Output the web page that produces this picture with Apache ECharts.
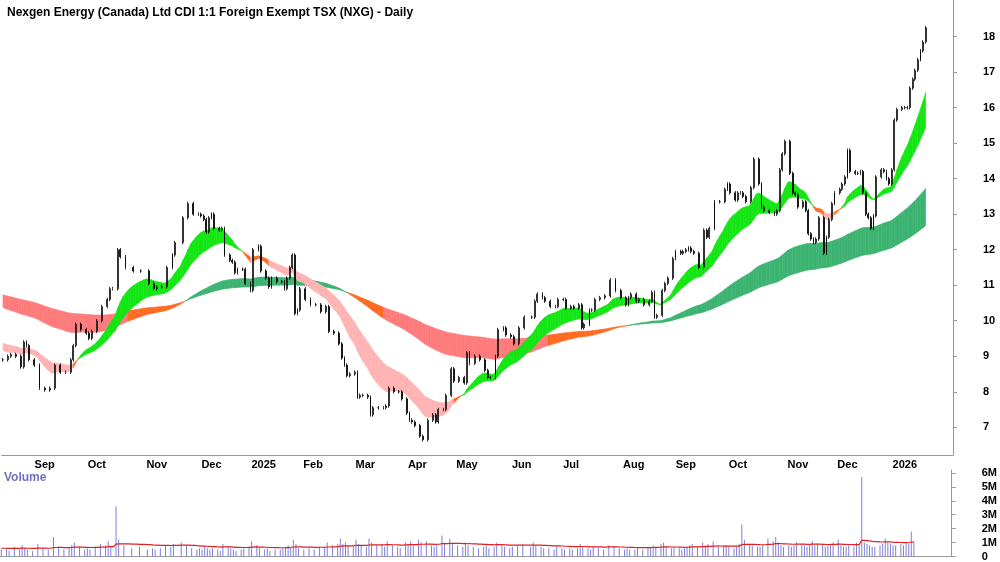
<!DOCTYPE html>
<html lang="en">
<head>
<meta charset="UTF-8">
<title>NXG Daily</title>
<script src="https://cdn.jsdelivr.net/npm/echarts@6/dist/echarts.min.js"></script>
<style>
  body { margin: 0; background: #ffffff; }
</style>
</head>
<body>
<div id="chart" style="width:1000px;height:562px;"></div>
<script>
// trading-day index and closing price
const days = [0,2,3,5,7,8,9,10,12,14,16,18,20,22,24,26,27,28,30,32,33,34,36,38,40,41,42,44,45,47,50,53,56,58,59,61,63,65,66,69,71,73,75,76,77,78,79,80,81,83,84,85,87,88,89,90,92,93,95,96,98,99,101,102,103,105,107,108,109,110,111,112,113,114,116,118,120,122,124,125,127,129,130,131,132,133,135,136,137,138,140,141,142,144,146,147,148,150,152,153,155,156,157,158,160,161,163,165,166,167,169,170,172,173,175,177,178,179,181,183,185,186,187,189,190,192,193,195,196,198,200,203,204,205,207,208,210,212,213,215,216,218,219,221,222,223,225,226,227,229,231,233,235,237,239,240,241,243,244,246,248,249,250,251,253,254,255,257,258,260,261,262,263,264,265,267,269,270,271,273,275,277,278,279,281,282,283,284,285,287,288,290,291,292,294,296,297,298,299,300,302,303,304,305,307,308,309,310,311,312,313,315,316,317,318,319,321,322,323,324,325,327,328,329,330,331,332,333,334,335,337,338,339,340,341,342,343,345,346,347,348,349,350,351,352,353,354];
const closes = [8.9,9.0,9.05,9.0,8.7,9.4,9.3,8.9,8.75,8.1,8.05,8.1,8.75,8.55,8.55,8.9,9.3,9.9,9.75,9.65,9.5,9.7,10.0,10.4,10.6,10.9,10.9,12.0,11.8,11.5,11.4,11.4,11.05,10.9,10.95,10.95,11.5,11.85,12.2,12.9,13.3,13.0,13.0,12.95,12.85,12.5,12.9,13.0,12.6,12.55,12.6,11.85,11.7,11.65,11.35,11.45,11.45,11.05,10.85,12.0,12.1,11.4,11.2,10.95,11.2,11.1,11.1,10.9,11.2,11.5,11.85,10.2,10.3,10.9,10.6,10.45,10.45,10.25,10.4,9.7,9.65,9.35,8.95,8.75,8.45,8.5,8.55,7.85,7.9,7.9,7.85,7.35,7.55,7.55,7.55,7.6,8.1,8.0,8.0,7.8,7.4,7.2,7.15,7.05,6.75,6.65,7.2,7.35,7.15,7.5,7.5,7.9,8.65,8.3,8.4,8.25,9.1,8.8,9.0,8.9,8.6,8.4,8.4,9.0,9.75,9.8,9.6,9.55,9.35,9.8,10.1,10.1,10.55,10.75,10.65,10.55,10.4,10.4,10.6,10.6,10.35,10.4,10.35,10.45,9.8,9.9,10.3,10.3,10.6,10.65,10.7,11.15,10.85,10.65,10.45,10.65,10.75,10.55,10.6,10.45,10.55,10.8,10.1,10.15,10.85,11.05,11.2,11.75,11.95,11.9,11.95,12.0,12.05,11.95,11.9,11.5,12.55,12.35,12.6,13.35,13.35,13.7,13.85,13.6,13.4,13.6,13.6,13.5,13.35,13.75,14.55,13.85,13.2,13.1,13.05,13.0,13.1,14.25,14.7,15.05,14.15,13.6,13.55,13.2,13.35,13.1,12.45,12.3,12.2,12.3,12.9,11.9,12.35,12.85,13.3,13.6,13.7,13.85,14.05,14.8,14.2,14.15,14.15,14.2,13.6,13.0,12.9,12.6,12.95,14.05,14.25,14.2,14.0,13.85,14.25,15.65,15.95,16.0,16.0,16.0,16.55,16.8,17.05,17.35,17.6,17.85,18.25];
// volume in millions, one per candle
const volumes = [0.5,0.6,0.4,0.7,0.5,0.8,0.6,0.5,0.4,0.9,0.6,0.5,1.4,0.7,0.5,0.6,0.8,1.0,0.7,0.5,0.6,0.5,0.7,0.9,0.8,1.1,0.7,3.6,1.2,0.8,0.6,0.7,0.5,0.6,0.5,0.6,0.8,0.7,0.9,1.0,0.8,0.6,0.5,0.6,0.5,0.7,0.6,0.5,0.6,0.5,0.4,0.9,0.7,0.6,0.5,0.4,0.5,0.6,0.7,1.1,0.8,0.6,0.5,0.6,0.4,0.5,0.5,0.6,0.7,0.8,0.7,1.2,0.9,0.6,0.5,0.6,0.5,0.7,0.6,1.0,0.8,0.9,1.3,0.9,1.0,0.8,0.7,1.2,0.9,0.8,0.7,1.3,1.0,0.8,0.9,0.7,1.1,0.8,0.7,0.6,1.0,0.9,1.1,0.8,1.2,1.0,1.1,0.8,0.7,0.9,1.5,1.0,1.3,0.9,0.8,0.7,1.0,0.8,0.7,0.6,0.7,0.8,0.6,0.7,1.0,0.8,0.7,0.6,0.7,0.8,0.9,0.7,1.0,0.8,0.7,0.6,0.6,0.5,0.7,0.6,0.5,0.6,0.5,0.6,0.9,0.7,0.6,0.5,0.7,0.6,0.5,0.8,0.7,0.6,0.5,0.6,0.5,0.5,0.6,0.5,0.7,0.6,0.8,0.7,0.9,1.0,0.7,0.6,0.7,0.6,0.5,0.6,0.7,0.8,0.9,0.7,1.0,0.8,0.9,1.1,0.8,0.7,0.8,0.7,0.6,0.7,0.9,2.3,1.2,0.9,0.8,0.7,0.7,0.8,1.3,1.1,1.4,1.0,0.8,0.7,0.8,0.7,0.8,1.0,0.9,0.8,0.7,0.9,1.1,0.8,0.9,0.8,0.7,0.8,0.9,1.0,1.2,0.8,0.7,0.7,0.8,0.7,1.0,0.8,5.7,1.0,0.9,0.8,0.7,0.7,0.8,0.9,1.3,1.0,0.9,0.8,0.8,0.9,0.8,1.0,0.9,1.8,1.0];
const monthLabels = [[16,'Sep'],[36,'Oct'],[59,'Nov'],[80,'Dec'],[100,'2025'],[119,'Feb'],[139,'Mar'],[159,'Apr'],[178,'May'],[199,'Jun'],[218,'Jul'],[242,'Aug'],[262,'Sep'],[282,'Oct'],[305,'Nov'],[324,'Dec'],[346,'2026']];
const priceTicks = [7,8,9,10,11,12,13,14,15,16,17,18];
const volTicks = [0,1,2,3,4,5,6];
// ribbon EMA periods and their starting levels at the left edge
const shortPeriods = [16, 32], shortSeed = [9.2, 9.4];
const longPeriods = [100, 180], longSeed = [10.4, 10.75];
const nDays = 365;

const cats = [];
const labelAt = {};
monthLabels.forEach(([i, t]) => { labelAt[i] = t; });
for (let i = 0; i < nDays; i++) cats.push(labelAt[i] || '');

// daily close with carry-forward, for the averages
const lastDay = days[days.length - 1];
const daily = [];
let k = 0, cur = closes[0];
for (let i = 0; i <= lastDay; i++) {
  if (days[k] === i) { cur = closes[k]; k++; }
  daily.push(cur);
}
function ema(period, seed) {
  const a = 2 / (period + 1);
  let v = seed;
  return daily.map(c => (v = v + a * (c - v)));
}
const sF = ema(shortPeriods[0], shortSeed[0]), sS = ema(shortPeriods[1], shortSeed[1]);
const lF = ema(longPeriods[0], longSeed[0]), lS = ema(longPeriods[1], longSeed[1]);

const candles = cats.map(() => '-');
const vols = cats.map(() => '-');
days.forEach((d, j) => {
  const c = closes[j], o = j ? closes[j - 1] : c;
  candles[d] = [o, c, Math.min(o, c) - 0.05, Math.max(o, c) + 0.05];
  vols[d] = volumes[j] * 1e6;
});
const volMa = [];
let vm = 0.6e6;
for (let i = 0; i <= lastDay; i++) {
  if (vols[i] !== '-') vm = vm + (vols[i] - vm) * 2 / 31;
  volMa.push(vm);
}

function ribbon(f, s, up, down, flat, wideGap) {
  const d = [];
  for (let i = 0; i < f.length - 1; i++) d.push([i, f[i], s[i], f[i + 1], s[i + 1]]);
  return {
    type: 'custom', xAxisIndex: 0, yAxisIndex: 0, silent: true, z: 1,
    encode: { x: 0, y: [1, 2] },
    data: d,
    renderItem: (params, api) => {
      const i = api.value(0);
      const p1 = api.coord([i, api.value(1)]), p2 = api.coord([i + 1, api.value(3)]);
      const p3 = api.coord([i + 1, api.value(4)]), p4 = api.coord([i, api.value(2)]);
      const diff = api.value(1) - api.value(2);
      const col = diff > 0 ? up : (-diff > wideGap ? down : flat);
      return { type: 'polygon', shape: { points: [p1, p2, p3, p4] },
        style: { fill: col, stroke: col, lineWidth: 0.6 } };
    }
  };
}

const chart = echarts.init(document.getElementById('chart'));
chart.setOption({
  animation: false,
  title: { text: 'Nexgen Energy (Canada) Ltd CDI 1:1 Foreign Exempt TSX (NXG) - Daily', left: 2, top: 2,
    textStyle: { fontSize: 12, fontWeight: 'bold', color: '#000', fontFamily: 'Liberation Sans' } },
  graphic: [{ type: 'text', left: 4, top: 472, style: { text: 'Volume', fill: '#7070c0', fontSize: 12, fontWeight: 'bold', fontFamily: 'Liberation Sans' } }],
  grid: [
    { left: 0, right: 47, top: 0, bottom: 107 },
    { left: 0, right: 47, top: 470, bottom: 5 }
  ],
  xAxis: [
    { type: 'category', gridIndex: 0, data: cats, boundaryGap: true,
      axisLine: { lineStyle: { color: '#999' } }, axisTick: { show: false },
      axisLabel: { interval: 0, color: '#000', fontSize: 11, fontWeight: 'bold', margin: 4, fontFamily: 'Liberation Sans' },
      splitLine: { show: false } },
    { type: 'category', gridIndex: 1, data: cats, boundaryGap: true,
      axisLine: { lineStyle: { color: '#999' } }, axisTick: { show: false }, axisLabel: { show: false } }
  ],
  yAxis: [
    { type: 'value', gridIndex: 0, position: 'right', min: 6.22, max: 19.03,
      axisLine: { show: true, lineStyle: { color: '#999' } },
      axisTick: { show: true, customValues: priceTicks, length: 4 },
      axisLabel: { customValues: priceTicks, color: '#000', fontSize: 11, fontWeight: 'bold', margin: 30, align: 'left', fontFamily: 'Liberation Sans' },
      splitLine: { show: false } },
    { type: 'value', gridIndex: 1, position: 'right', min: 0, max: 6.21e6,
      axisLine: { show: true, lineStyle: { color: '#999' } },
      axisTick: { show: true, customValues: volTicks.map(v => v * 1e6), length: 4 },
      axisLabel: { customValues: volTicks.map(v => v * 1e6), formatter: v => v ? (v / 1e6) + 'M' : '0',
        color: '#000', fontSize: 11, fontWeight: 'bold', margin: 30, align: 'left', fontFamily: 'Liberation Sans' },
      splitLine: { show: false } }
  ],
  series: [
    ribbon(lF, lS, '#3cb371', '#ff7b7b', '#ff6a22', 0.3),
    ribbon(sF, sS, '#14e614', '#ffb3b3', '#ff6a22', 0.12),
    { type: 'candlestick', data: candles, z: 3, barMaxWidth: 3,
      itemStyle: { color: '#fff', color0: '#000', borderColor: '#000', borderColor0: '#000', borderWidth: 0.8 } },
    { type: 'bar', xAxisIndex: 1, yAxisIndex: 1, data: vols, barWidth: 1,
      itemStyle: { color: '#8080d8' } },
    { type: 'line', xAxisIndex: 1, yAxisIndex: 1, data: volMa, symbol: 'none',
      lineStyle: { color: '#e02020', width: 1.2 } }
  ]
});
</script>
</body>
</html>
